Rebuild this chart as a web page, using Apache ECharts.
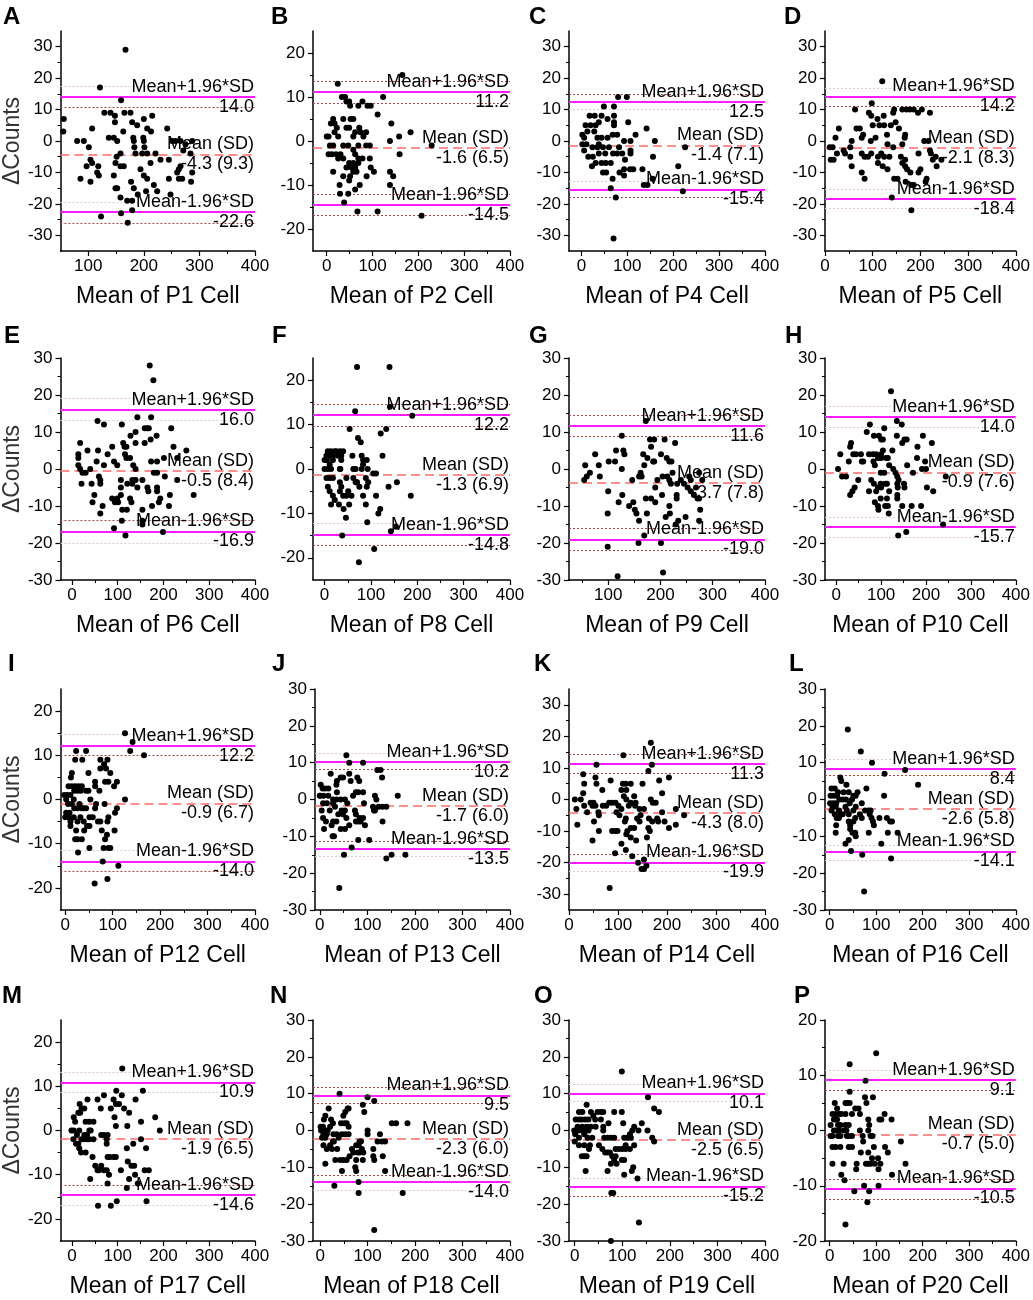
<!DOCTYPE html>
<html>
<head>
<meta charset="utf-8">
<script src="https://cdn.jsdelivr.net/npm/echarts@6.0.0/dist/echarts.min.js"></script>
<style>
  html, body { margin: 0; padding: 0; background: #fff; }
  #chart { width: 1033px; height: 1300px; }
</style>
</head>
<body>
<div id="chart"></div>
<script>
// panel letters and cell names
const letters = ['A','B','C','D','E','F','G','H','I','J','K','L','M','N','O','P'];
const cellNames = ['P1','P2','P4','P5','P6','P8','P9','P10','P12','P13','P14','P16','P17','P18','P19','P20'];

// Bland-Altman statistics
const meanDiff = [-4.3, -1.6, -1.4, -2.1, -0.5, -1.3, -3.7, -0.9, -0.9, -1.7, -4.3, -2.6, -1.9, -2.3, -2.5, -0.7];
const sdDiff   = [ 9.3,  6.5,  7.1,  8.3,  8.4,  6.9,  7.8,  7.6,  6.7,  6.0,  8.0,  5.8,  6.5,  6.0,  6.5,  5.0];
const upperLoA = [14.0, 11.2, 12.5, 14.2, 16.0, 12.2, 11.6, 14.0, 12.2, 10.2, 11.3,  8.4, 10.9,  9.5, 10.1,  9.1];
const lowerLoA = [-22.6,-14.5,-15.4,-18.4,-16.9,-14.8,-19.0,-15.7,-14.0,-13.5,-19.9,-14.1,-14.6,-14.0,-15.2,-10.5];
// confidence bounds of the limits (dotted lines) and whether each is drawn dark (1) or faint (0)
const ciLevels = [
  [17.4, 10.6, -19.4, -26.1], [13.5, 8.6, -12.0, -16.8], [15.0, 10.0, -12.8, -18.0], [16.9, 11.1, -15.5, -21.5],
  [19.0, 13.1, -13.8, -20.0], [14.6, 9.7, -12.2, -17.1], [14.6, 8.8, -16.1, -21.9], [16.9, 11.2, -13.0, -18.4],
  [14.7, 10.0, -11.5, -16.3], [12.6, 8.1, -11.4, -15.5], [14.2, 8.4, -17.2, -22.8], [11.0, 6.7, -12.3, -16.5],
  [13.1, 8.6, -12.4, -17.0], [11.7, 7.3, -12.1, -16.3], [12.5, 7.9, -13.0, -17.8], [10.9, 7.2, -8.8, -12.5]
];
const ciDark = [
  [0,1,0,1], [1,1,1,1], [1,0,0,1], [0,1,0,0],
  [0,0,1,0], [1,1,0,1], [1,1,1,1], [0,0,0,0],
  [0,1,0,1], [0,1,1,0], [1,1,1,0], [0,1,0,0],
  [0,0,1,0], [1,1,1,0], [0,0,0,1], [0,1,1,1]
];

// axis ranges
const xMin = [50, -30, -27, 0, -25, -25, 25, -25, -10, -10, 0, -10, -25, -15, -12, -10];
const xMax = 400;
const yLim = [35, 25, 35, 35, 30, 25, 30, 30, 25, 30, 35, 30, 25, 30, 30, 20];

// points: [mean of the two counts, difference]
const p1 = [[167,29],[121,17],[159,13],[56,7],[55,3],[129,9],[140,9],[165,9],[176,9],[148,8],[148,6],[107,4],[137,1],[146,1],[152,0],[80,0],[92,0],[101,-2],[163,3],[179,6],[188,5],[200,7],[215,8],[181,1],[182,0],[183,-2],[199,1],[200,0],[201,-2],[197,-4],[213,3],[206,4],[185,-4],[206,-4],[221,-4],[158,-4],[151,-5],[164,-8],[149,-7],[158,-8],[97,-8],[104,-6],[107,-7],[118,-8],[86,-12],[104,-13],[116,-10],[119,-11],[146,-11],[194,-9],[200,-11],[206,-12],[212,-7],[230,-6],[177,-13],[182,-15],[149,-15],[152,-15],[218,-14],[224,-16],[204,-16],[189,-17],[170,-19],[179,-19],[158,-18],[159,-23],[179,-22],[123,-24],[171,-26],[242,4],[251,0],[257,0],[266,0],[287,0],[275,-1],[271,-3],[284,-4],[263,-9],[260,-10],[266,-8],[245,-12],[263,-12],[269,-12],[285,-13],[287,-10],[248,-17],[245,-6]];
const p2 = [[165,15],[24,13],[123,10],[33,10],[40,10],[43,9],[49,9],[51,8],[69,8],[78,9],[89,8],[96,8],[111,6],[14,5],[9,4],[36,5],[52,5],[58,5],[141,4],[17,4],[22,3],[43,3],[49,3],[71,3],[74,2],[86,2],[183,2],[158,1],[4,1],[0,1],[17,2],[25,1],[58,1],[62,2],[80,1],[138,0],[86,-1],[94,-1],[36,-1],[47,-1],[69,-1],[7,-1],[14,-1],[229,-1],[4,-3],[11,-3],[20,-3],[30,-3],[58,-2],[62,-3],[159,-3],[25,-4],[36,-4],[49,-5],[58,-5],[69,-4],[69,-5],[94,-4],[96,-6],[54,-6],[62,-6],[43,-6],[14,-7],[58,-7],[65,-7],[103,-7],[138,-7],[145,-8],[36,-8],[51,-8],[87,-8],[72,-10],[28,-10],[138,-10],[62,-11],[29,-12],[47,-12],[38,-14],[67,-16],[111,-16],[207,-17],[49,-9],[78,-4]];
const p4 = [[80,14],[99,14],[49,11],[71,11],[18,8],[29,8],[44,8],[57,7],[71,8],[71,6],[102,6],[9,5],[20,5],[31,5],[38,6],[71,5],[142,4],[13,3],[28,3],[118,2],[68,2],[78,2],[2,2],[6,1],[35,1],[44,1],[57,1],[93,0],[107,0],[160,0],[2,-1],[11,-1],[24,-2],[35,-2],[47,-2],[60,-2],[82,-2],[226,-2],[6,-3],[38,-4],[52,-4],[69,-4],[78,-4],[107,-3],[107,-4],[89,-4],[15,-5],[25,-5],[156,-5],[31,-7],[44,-7],[53,-7],[64,-7],[95,-6],[23,-8],[211,-8],[93,-9],[106,-9],[113,-9],[83,-10],[47,-10],[54,-10],[93,-11],[133,-9],[68,-12],[136,-14],[144,-14],[221,-16],[64,-15],[75,-18],[70,-31],[155,-12],[38,-1]];
const p5 = [[120,19],[98,12],[63,10],[143,9],[145,10],[162,10],[171,10],[178,10],[186,10],[195,9],[203,10],[220,9],[92,9],[97,8],[110,7],[123,8],[100,5],[114,5],[124,5],[138,5],[148,6],[155,4],[29,4],[66,4],[73,4],[130,2],[168,2],[106,1],[80,2],[77,1],[22,1],[56,0],[96,0],[208,0],[217,0],[167,1],[162,-1],[10,-2],[16,-2],[39,-3],[53,-2],[143,-2],[131,-1],[220,-3],[222,-4],[196,-4],[232,-5],[12,-6],[18,-6],[25,-4],[42,-4],[53,-5],[83,-5],[90,-5],[118,-4],[124,-5],[135,-5],[111,-5],[77,-4],[159,-5],[168,-6],[226,-6],[244,-6],[56,-8],[111,-7],[121,-8],[162,-7],[168,-8],[234,-8],[77,-10],[83,-12],[131,-9],[172,-9],[179,-10],[200,-9],[196,-10],[145,-12],[152,-12],[213,-12],[211,-13],[169,-13],[181,-14],[186,-14],[140,-18],[181,-22],[97,-4]];
const p6 = [[170,28],[178,24],[56,13],[70,12],[109,12],[143,14],[173,14],[217,11],[159,11],[164,11],[168,11],[139,10],[128,9],[185,9],[139,7],[159,7],[172,8],[112,7],[115,6],[119,6],[88,6],[18,7],[222,6],[250,5],[34,5],[57,5],[14,4],[14,3],[78,4],[116,4],[119,3],[230,3],[201,3],[92,2],[99,1],[54,2],[173,2],[186,2],[14,1],[18,0],[70,1],[134,1],[139,0],[127,3],[40,0],[23,-1],[30,-1],[179,-1],[186,-1],[59,-2],[62,-3],[203,-2],[21,-4],[43,-4],[62,-4],[107,-3],[132,-3],[139,-3],[154,-3],[230,-3],[143,-5],[165,-5],[167,-6],[186,-5],[186,-6],[107,-5],[121,-4],[132,-4],[193,-8],[214,-7],[266,-7],[49,-7],[107,-7],[45,-9],[67,-10],[62,-12],[88,-8],[94,-9],[99,-8],[101,-9],[127,-8],[130,-9],[175,-10],[190,-9],[212,-10],[110,-11],[120,-11],[154,-11],[109,-14],[92,-16],[154,-14],[154,-15],[117,-18],[199,-17]];
const p8 = [[70,23],[140,23],[141,14],[66,13],[189,12],[54,9],[133,9],[121,8],[72,7],[78,6],[125,3],[60,3],[80,3],[83,2],[91,2],[7,4],[14,4],[22,4],[25,4],[33,4],[40,4],[4,3],[11,3],[18,3],[29,3],[36,3],[0,2],[5,2],[11,1],[18,2],[36,2],[0,0],[7,0],[14,0],[33,0],[34,0],[62,0],[67,0],[83,1],[80,0],[93,0],[105,-1],[111,-1],[4,-2],[11,-2],[18,-2],[47,-2],[67,-3],[70,-3],[75,-4],[89,-2],[94,-3],[91,-4],[156,-3],[138,-4],[7,-4],[11,-5],[33,-3],[36,-4],[33,-5],[18,-6],[22,-7],[40,-6],[47,-6],[58,-6],[51,-5],[83,-6],[111,-6],[186,-6],[14,-8],[31,-8],[53,-8],[89,-8],[41,-9],[120,-9],[116,-10],[46,-11],[92,-12],[143,-14],[154,-13],[38,-15],[107,-18],[74,-21],[69,-3],[62,-2]];
const p9 = [[172,13],[126,9],[180,8],[188,8],[208,8],[228,7],[182,6],[115,5],[129,5],[75,4],[167,4],[201,4],[131,4],[175,3],[101,2],[113,2],[186,2],[188,2],[212,3],[217,2],[221,2],[169,1],[65,-1],[56,1],[82,1],[59,-2],[84,-2],[126,0],[162,-1],[164,-2],[159,-2],[204,-2],[213,-2],[223,-1],[239,-3],[245,-4],[232,-4],[217,-3],[220,-4],[146,-3],[194,-3],[190,-5],[255,-2],[258,-3],[274,-1],[252,-5],[258,-6],[268,-5],[264,-7],[271,-8],[274,-8],[280,-3],[231,-7],[231,-8],[203,-7],[172,-8],[182,-8],[190,-9],[127,-7],[120,-9],[100,-6],[99,-12],[140,-10],[148,-9],[151,-11],[154,-12],[159,-14],[174,-12],[217,-10],[218,-12],[210,-13],[234,-14],[229,-15],[248,-13],[276,-11],[274,-14],[169,-18],[158,-20],[201,-20],[99,-21],[118,-29],[205,-28],[54,-3]];
const p10 = [[122,21],[135,13],[146,12],[75,12],[68,10],[107,11],[135,9],[193,9],[84,9],[95,9],[100,8],[104,8],[152,8],[157,8],[147,7],[213,7],[33,7],[31,6],[181,6],[125,5],[104,5],[9,4],[38,4],[44,4],[73,4],[82,4],[89,4],[100,4],[55,4],[93,3],[100,3],[111,3],[115,3],[180,3],[28,2],[57,2],[60,2],[83,2],[86,1],[118,1],[158,1],[198,2],[200,0],[191,0],[127,0],[132,-1],[4,0],[13,-2],[22,-2],[99,-1],[136,-2],[139,-3],[171,-1],[107,-1],[49,-3],[78,-3],[84,-4],[99,-4],[100,-5],[109,-4],[113,-4],[136,-4],[137,-5],[151,-4],[152,-5],[244,-2],[202,-5],[216,-6],[41,-5],[36,-6],[31,-7],[93,-5],[89,-6],[118,-6],[73,-6],[113,-8],[99,-8],[136,-7],[136,-8],[86,-9],[93,-10],[94,-11],[109,-10],[115,-10],[147,-10],[168,-10],[189,-10],[117,-12],[238,-15],[138,-18],[156,-17]];
const p12 = [[126,15],[142,13],[137,11],[166,10],[23,11],[44,11],[21,9],[36,9],[74,9],[89,9],[82,8],[86,7],[74,7],[14,6],[12,5],[49,6],[95,6],[63,4],[63,3],[84,4],[91,4],[109,4],[103,3],[7,3],[14,3],[21,3],[28,3],[35,3],[44,2],[49,2],[19,2],[26,2],[33,2],[72,2],[-2,1],[4,1],[11,1],[18,0],[126,0],[2,0],[6,-1],[14,-1],[19,-2],[30,-1],[39,-2],[65,-1],[26,-2],[35,-2],[44,-2],[83,-1],[109,-2],[105,-3],[2,-3],[9,-3],[63,-2],[0,-4],[7,-4],[18,-4],[32,-4],[91,-4],[89,-5],[51,-4],[58,-4],[74,-5],[69,-5],[11,-5],[26,-5],[39,-5],[11,-6],[46,-6],[51,-6],[23,-7],[40,-7],[77,-7],[104,-7],[88,-8],[21,-9],[26,-9],[35,-9],[84,-9],[51,-11],[81,-11],[91,-11],[95,-11],[27,-12],[79,-14],[112,-15],[62,-19],[89,-18],[53,0]];
const p13 = [[56,12],[62,10],[91,10],[121,8],[128,8],[23,7],[62,7],[131,6],[44,6],[49,6],[79,6],[83,5],[65,5],[164,1],[36,5],[2,4],[6,3],[11,3],[18,3],[35,4],[36,2],[70,1],[76,2],[81,2],[91,2],[116,1],[119,0],[0,1],[1,1],[8,1],[18,1],[28,0],[35,0],[44,0],[53,0],[58,-1],[93,-1],[7,-1],[15,-1],[28,-1],[32,-2],[112,-2],[116,-3],[124,-2],[140,-2],[132,-2],[4,-3],[46,-3],[53,-3],[21,-3],[39,-4],[74,-3],[76,-4],[84,-5],[7,-5],[13,-6],[49,-4],[56,-5],[91,-5],[86,-6],[132,-6],[28,-6],[35,-6],[76,-6],[81,-6],[62,-7],[44,-8],[53,-8],[95,-7],[9,-8],[25,-7],[30,-10],[27,-10],[81,-11],[104,-11],[67,-13],[51,-15],[140,-16],[151,-15],[180,-15],[41,-24],[114,-3]];
const p14 = [[167,18],[111,14],[56,11],[169,11],[162,9],[29,8],[54,7],[204,7],[85,6],[184,6],[31,5],[56,5],[110,5],[116,5],[126,5],[150,5],[68,3],[107,3],[117,3],[29,2],[190,2],[112,1],[117,0],[133,1],[12,0],[167,0],[171,-1],[177,-1],[44,-1],[50,-1],[82,-1],[88,-1],[95,-1],[126,-1],[136,-1],[15,-3],[31,-2],[37,-4],[48,-2],[54,-2],[69,-2],[76,-2],[101,-2],[107,-3],[122,-2],[135,-2],[60,-4],[61,-5],[97,-4],[103,-5],[144,-3],[146,-5],[153,-3],[190,-4],[218,-3],[235,-5],[51,-7],[17,-8],[116,-6],[114,-7],[139,-6],[144,-7],[163,-6],[170,-7],[180,-6],[182,-7],[195,-7],[218,-8],[204,-9],[126,-9],[133,-9],[119,-10],[94,-10],[99,-10],[61,-10],[88,-10],[162,-9],[165,-10],[159,-12],[117,-11],[126,-12],[137,-13],[48,-13],[107,-14],[116,-16],[94,-17],[129,-18],[153,-19],[141,-20],[148,-22],[153,-22],[158,-21],[83,-28],[24,0]];
const p16 = [[39,19],[67,13],[91,10],[162,8],[118,7],[190,4],[23,6],[25,5],[36,4],[4,3],[11,3],[18,2],[30,2],[41,2],[60,2],[79,3],[2,1],[9,1],[16,1],[51,1],[56,1],[48,0],[117,1],[1,-1],[8,-1],[14,-1],[21,0],[28,0],[35,0],[43,-1],[69,-1],[6,-2],[13,-2],[20,-3],[34,-2],[56,-2],[51,-3],[76,-3],[83,-3],[4,-3],[11,-4],[23,-4],[28,-4],[37,-3],[41,-4],[65,-4],[69,-5],[86,-4],[90,-5],[107,-5],[123,-5],[130,-6],[134,-6],[15,-5],[20,-5],[41,-6],[44,-7],[55,-5],[51,-6],[93,-6],[95,-7],[14,-7],[44,-8],[49,-9],[55,-9],[56,-10],[84,-9],[125,-9],[146,-9],[13,-9],[41,-11],[34,-12],[111,-12],[46,-14],[70,-15],[132,-16],[74,-25],[88,-3]];
const p17 = [[110,14],[97,9],[155,9],[70,8],[109,8],[91,7],[34,7],[56,7],[139,7],[103,6],[96,6],[17,6],[21,5],[27,5],[63,5],[85,5],[114,5],[14,4],[18,4],[125,4],[182,3],[93,3],[4,3],[7,2],[30,2],[38,2],[47,2],[151,2],[96,1],[121,1],[-1,0],[4,0],[192,0],[11,-1],[16,0],[27,-1],[33,-1],[38,0],[41,0],[64,-1],[70,-1],[78,-1],[3,-2],[9,-3],[21,-2],[27,-2],[34,-2],[47,-2],[76,-2],[151,-2],[162,-4],[120,-4],[14,-3],[16,-4],[20,-5],[30,-5],[134,-3],[76,-3],[45,-6],[78,-6],[83,-6],[91,-6],[96,-6],[122,-7],[130,-8],[136,-8],[51,-8],[56,-9],[59,-9],[64,-8],[70,-9],[76,-9],[81,-10],[107,-9],[159,-9],[168,-9],[138,-10],[40,-11],[78,-12],[125,-11],[120,-13],[144,-12],[57,-17],[85,-17],[98,-16],[163,-16],[38,-2]];
const p18 = [[41,10],[100,9],[114,8],[90,7],[18,6],[58,6],[60,6],[53,5],[49,4],[93,5],[11,4],[8,3],[23,3],[27,2],[44,2],[51,2],[56,2],[60,1],[151,2],[160,2],[184,2],[1,1],[6,1],[11,0],[16,0],[21,1],[2,0],[7,-1],[14,-1],[28,-1],[35,-1],[46,-1],[53,-1],[60,-1],[100,0],[100,-1],[4,-2],[11,-2],[27,-3],[29,-3],[39,-2],[126,-1],[83,-3],[86,-3],[121,-3],[130,-3],[137,-3],[7,-4],[14,-5],[21,-4],[25,-5],[76,-4],[81,-4],[88,-5],[67,-5],[70,-6],[112,-5],[79,-6],[83,-6],[91,-6],[62,-7],[132,-7],[112,-7],[114,-8],[56,-8],[49,-8],[42,-8],[76,-8],[90,-8],[32,-8],[11,-9],[74,-10],[76,-11],[46,-11],[137,-11],[81,-14],[30,-15],[81,-17],[174,-17],[114,-27],[36,-5]];
const p19 = [[99,16],[154,9],[167,6],[177,5],[25,7],[9,5],[16,5],[34,5],[48,5],[55,5],[60,5],[83,5],[99,5],[39,4],[2,3],[9,3],[15,3],[22,3],[29,3],[43,3],[55,3],[71,2],[102,2],[141,2],[6,1],[16,1],[25,1],[34,1],[44,1],[60,1],[125,1],[-1,0],[8,0],[16,0],[23,0],[29,0],[60,0],[134,0],[153,0],[121,0],[1,-1],[9,-2],[20,-1],[27,-2],[37,-2],[62,-2],[69,-2],[76,-2],[83,-2],[104,-2],[111,-2],[116,-1],[118,-2],[163,-2],[167,-3],[0,-3],[9,-4],[20,-4],[32,-4],[51,-4],[58,-5],[107,-4],[125,-4],[30,-5],[64,-6],[69,-6],[86,-5],[93,-5],[100,-5],[107,-5],[116,-5],[74,-6],[79,-7],[86,-7],[15,-7],[20,-7],[25,-7],[99,-8],[104,-8],[88,-9],[83,-8],[76,-9],[123,-10],[120,-11],[104,-12],[69,-11],[23,-11],[132,-13],[77,-17],[81,-17],[135,-25],[76,-30]];
const p20 = [[100,14],[43,12],[77,9],[43,7],[93,6],[76,6],[79,5],[11,5],[16,4],[34,5],[37,5],[43,5],[62,4],[6,3],[13,3],[20,3],[25,3],[34,3],[48,3],[65,3],[118,3],[55,4],[133,2],[9,2],[13,2],[16,2],[107,2],[111,2],[18,1],[23,1],[34,1],[41,1],[83,2],[2,1],[9,0],[14,0],[20,0],[30,0],[36,0],[65,0],[83,0],[85,1],[88,-1],[92,-1],[2,-1],[6,-1],[18,-1],[23,-1],[37,-1],[41,-1],[48,-1],[71,-1],[153,-2],[72,-2],[6,-3],[13,-3],[23,-3],[41,-3],[48,-3],[95,-3],[119,-3],[125,-4],[83,-4],[67,-4],[91,-5],[104,-5],[109,-6],[78,-6],[83,-6],[88,-6],[97,-6],[6,-6],[30,-6],[163,-6],[58,-6],[57,-7],[105,-7],[25,-8],[134,-8],[32,-9],[74,-10],[105,-10],[53,-11],[85,-11],[81,-13],[34,-17]];
const points = [p1, p2, p4, p5, p6, p8, p9, p10, p12, p13, p14, p16, p17, p18, p19, p20];

// layout in pixels
const gridLeft = [60, 313, 569, 825, 60, 313, 569, 825, 60, 315, 569, 825, 60, 313, 569, 825];
const colRight = [255, 510, 765, 1020];
const rowTop = [31, 358, 689, 1020];
const rowBottom = [251, 580, 910, 1241];
const letterX = [3, 271, 529, 784, 4, 272, 529, 785, 8, 272, 534, 789, 2, 270, 534, 794];
const letterY = [5, 324, 652, 984];

const FONT = '"Liberation Sans", Arial, Helvetica, sans-serif';
const MAGENTA = '#ff1cff';
const MEAN_RED = '#ff6a6a';
const DOT_DARK = '#a84444';
const DOT_FAINT = '#e6caca';
const HIDDEN = 'rgba(255,255,255,0)';

const chart = echarts.init(document.getElementById('chart'));

function note(text, pos) {
  return {
    show: true, position: pos, formatter: text, distance: [1, 1],
    color: '#000', fontSize: 18, fontFamily: FONT
  };
}

const titles = [], grids = [], xAxes = [], yAxes = [], series = [];

for (let i = 0; i < 16; i++) {
  const r = Math.floor(i / 4), c = i % 4;
  grids.push({
    left: gridLeft[i], top: rowTop[r],
    width: colRight[c] - gridLeft[i], height: rowBottom[r] - rowTop[r]
  });
  titles.push({
    text: letters[i], left: letterX[i], top: letterY[r], padding: 0,
    textStyle: { fontSize: 24, fontWeight: 'bold', color: '#000', fontFamily: FONT }
  });

  const lim = yLim[i];
  const yMajor = [], yMinor = [];
  for (let v = -30; v <= 30; v += 5) {
    if (v % 10 === 0 && Math.abs(v) <= lim) yMajor.push(v);
    else if (v % 10 !== 0 && Math.abs(v) < lim) yMinor.push(v);
  }
  const xMajor = [], xMinor = [];
  for (let v = 0; v <= 400; v += 100) if (v >= xMin[i]) xMajor.push(v);
  for (let v = 50; v < 400; v += 100) if (v > xMin[i]) xMinor.push(v);

  // main x axis + minor-tick axis
  xAxes.push({
    type: 'value', gridIndex: i, min: xMin[i], max: xMax, position: 'bottom',
    axisLine: { show: true, onZero: false, lineStyle: { color: '#000', width: 1.5 } },
    axisTick: { show: true, customValues: xMajor, length: 5, lineStyle: { color: '#000', width: 1.2 } },
    axisLabel: { customValues: xMajor, margin: 7, color: '#000', fontSize: 17, fontFamily: FONT },
    splitLine: { show: false },
    name: 'Mean of ' + cellNames[i] + ' Cell', nameLocation: 'middle', nameGap: 34,
    nameTextStyle: { fontSize: 23, color: '#000', fontFamily: FONT }
  });
  xAxes.push({
    type: 'value', gridIndex: i, min: xMin[i], max: xMax, position: 'bottom', offset: 0,
    axisLine: { show: false, onZero: false },
    axisTick: { show: true, customValues: xMinor, length: 3, lineStyle: { color: '#000', width: 1 } },
    axisLabel: { show: false }, splitLine: { show: false }
  });

  const yMain = {
    type: 'value', gridIndex: i, min: -lim, max: lim, position: 'left',
    axisLine: { show: true, onZero: false, lineStyle: { color: '#000', width: 1.5 } },
    axisTick: { show: true, customValues: yMajor, length: 5, lineStyle: { color: '#000', width: 1.2 } },
    axisLabel: { customValues: yMajor, margin: 8, color: '#000', fontSize: 17, fontFamily: FONT },
    splitLine: { show: false }
  };
  if (c === 0) {
    yMain.name = '\u0394Counts';
    yMain.nameLocation = 'middle';
    yMain.nameGap = 34;
    yMain.nameTextStyle = { fontSize: 23, color: '#333', fontFamily: FONT };
  }
  yAxes.push(yMain);
  yAxes.push({
    type: 'value', gridIndex: i, min: -lim, max: lim, position: 'left', offset: 0,
    axisLine: { show: false, onZero: false },
    axisTick: { show: true, customValues: yMinor, length: 3, lineStyle: { color: '#000', width: 1 } },
    axisLabel: { show: false }, splitLine: { show: false }
  });

  // reference lines
  const lines = [];
  ciLevels[i].forEach((v, k) => {
    lines.push({
      yAxis: v,
      lineStyle: { color: ciDark[i][k] ? DOT_DARK : DOT_FAINT, width: 1, type: [2, 2] },
      label: { show: false }
    });
  });
  lines.push({ yAxis: upperLoA[i], lineStyle: { color: MAGENTA, width: 2, type: 'solid' },
               label: note('Mean+1.96*SD', 'insideEndTop') });
  lines.push({ yAxis: upperLoA[i], lineStyle: { color: HIDDEN, width: 1 },
               label: note(upperLoA[i].toFixed(1), 'insideEndBottom') });
  lines.push({ yAxis: meanDiff[i], lineStyle: { color: MEAN_RED, width: 1.6, type: [9, 5] },
               label: note('Mean (SD)', 'insideEndTop') });
  lines.push({ yAxis: meanDiff[i], lineStyle: { color: HIDDEN, width: 1 },
               label: note(meanDiff[i].toFixed(1) + ' (' + sdDiff[i].toFixed(1) + ')', 'insideEndBottom') });
  lines.push({ yAxis: lowerLoA[i], lineStyle: { color: MAGENTA, width: 2, type: 'solid' },
               label: note('Mean-1.96*SD', 'insideEndTop') });
  lines.push({ yAxis: lowerLoA[i], lineStyle: { color: HIDDEN, width: 1 },
               label: note(lowerLoA[i].toFixed(1), 'insideEndBottom') });

  series.push({
    type: 'scatter', xAxisIndex: 2 * i, yAxisIndex: 2 * i, data: [], z: 2, silent: true,
    markLine: { symbol: 'none', silent: true, animation: false, data: lines }
  });
  series.push({
    type: 'scatter', xAxisIndex: 2 * i, yAxisIndex: 2 * i, data: points[i], z: 5, silent: true,
    symbolSize: 6, itemStyle: { color: '#000', opacity: 1 }
  });
}

chart.setOption({
  animation: false,
  backgroundColor: '#fff',
  textStyle: { fontFamily: FONT },
  title: titles,
  grid: grids,
  xAxis: xAxes,
  yAxis: yAxes,
  series: series
});

window.addEventListener('resize', () => chart.resize());
</script>
</body>
</html>
